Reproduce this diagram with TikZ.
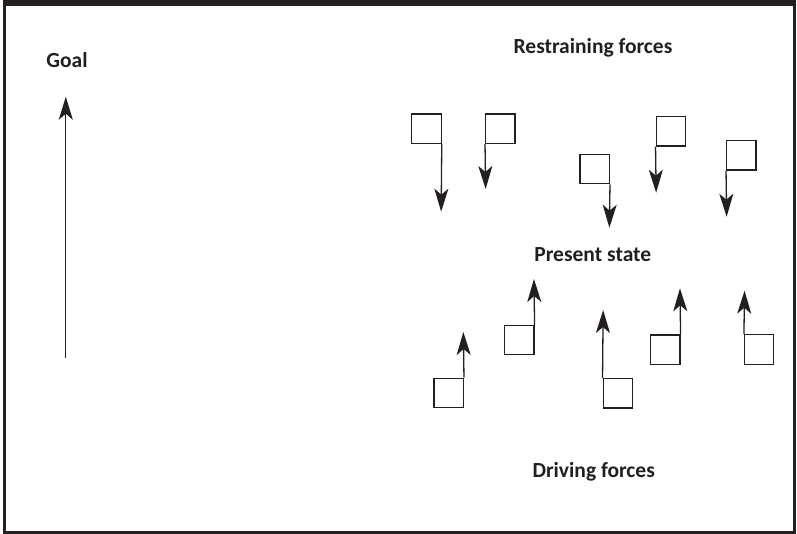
\documentclass[tikz,border=0pt]{standalone}
\usepackage{fontspec}
\setmainfont{Carlito}
\usepackage{xcolor}
\usepackage{tikz}
\usetikzlibrary{arrows.meta, positioning}

\definecolor{ink}{RGB}{35,31,32}

\begin{document}
\begin{tikzpicture}[x=1bp, y=-1bp, >={Stealth[length=23bp, width=14bp, inset=6bp]},
  field/.style={draw=ink, line width=1.25bp, minimum size=29.3bp, inner sep=0pt},
  force/.style={->, draw=ink, line width=1.3bp},
  caption/.style={anchor=base, text=ink, font=\bfseries\fontsize{21.6}{24}\selectfont}]

\useasboundingbox (0,0) rectangle (797,534);

% Frame
\fill[ink] (2.7,0) rectangle (796,6);
\draw[ink, line width=3bp] (4.2,3) rectangle (794.5,532.8);

% Labels
\node[caption] (goal) at (67,68) {Goal};
\node[caption] (restrain) at (593,53.3) {Restraining forces};
\node[caption] (present) at (592.8,261.7) {Present state};
\node[caption] (drive) at (593.7,477.3) {Driving forces};

% Goal arrow
\coordinate (goalbase) at (65.8,358.3);
\coordinate (goaltip) at (65.8,96.7);
\draw[force] (goalbase) -- (goaltip);

% Restraining forces
\node[field] (R1) at (426.5,128.7) {};
\node[field] (R2) at (500.3,128.7) {};
\node[field] (R3) at (594.7,169.2) {};
\node[field] (R4) at (670.8,131.3) {};
\node[field] (R5) at (741.3,155.3) {};

\coordinate (R1tip) at (441.15,211.7);
\coordinate (R2tip) at (485.65,189);
\coordinate (R3tip) at (609.35,227.7);
\coordinate (R4tip) at (656.15,192.7);
\coordinate (R5tip) at (726.65,216.7);

\draw[force] (R1.south east) -- (R1tip);
\draw[force] (R2.south west) -- (R2tip);
\draw[force] (R3.south east) -- (R3tip);
\draw[force] (R4.south west) -- (R4tip);
\draw[force] (R5.south west) -- (R5tip);

% Driving forces
\node[field] (D1) at (448.7,393) {};
\node[field] (D2) at (519.3,340.2) {};
\node[field] (D3) at (617.8,393.3) {};
\node[field] (D4) at (665.3,349.7) {};
\node[field] (D5) at (759.2,349.5) {};

\coordinate (D1tip) at (463.35,332);
\coordinate (D2tip) at (533.95,279);
\coordinate (D3tip) at (603.15,310);
\coordinate (D4tip) at (679.95,288.3);
\coordinate (D5tip) at (744.55,290.7);

\draw[force] (D1.north east) -- (D1tip);
\draw[force] (D2.north east) -- (D2tip);
\draw[force] (D3.north west) -- (D3tip);
\draw[force] (D4.north east) -- (D4tip);
\draw[force] (D5.north west) -- (D5tip);

\end{tikzpicture}
\end{document}
